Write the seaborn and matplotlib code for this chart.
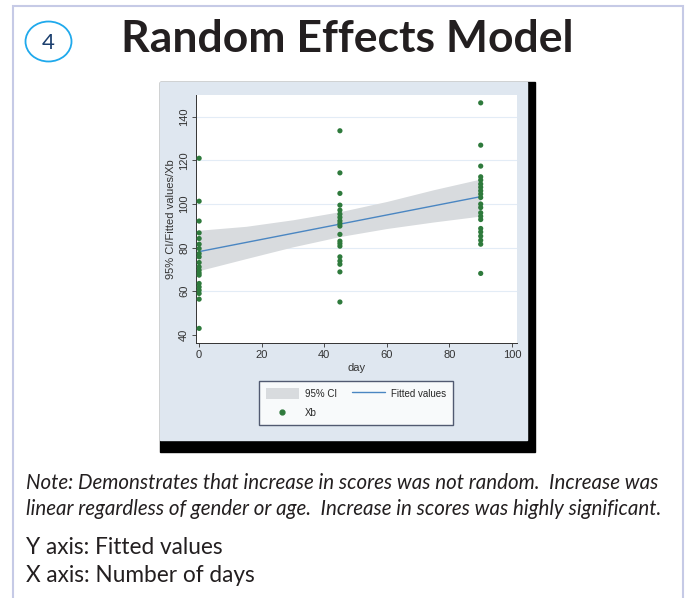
import matplotlib
matplotlib.use("Agg")
import matplotlib.pyplot as plt
from matplotlib.patches import Rectangle, Circle, Patch
from matplotlib.lines import Line2D
import numpy as np
import pandas as pd
import seaborn as sns

# Xb values, by day
day0_xb = [121.0, 101.3, 92.2, 86.8, 84.2, 81.6, 79.6, 77.3, 75.8, 73.2,
           71.2, 69.7, 68.4, 67.4, 63.6, 62.0, 60.5, 59.0, 56.4, 43.0]
day45_xb = [133.6, 114.3, 104.9, 99.5, 97.2, 95.4, 93.9, 92.3, 91.1, 89.9,
            86.1, 83.0, 81.9, 80.7, 75.8, 73.9, 72.4, 68.9, 55.1]
day90_xb = [146.4, 127.0, 117.4, 112.5, 111.0, 109.2, 107.7, 106.1, 104.6, 103.0,
            100.0, 98.4, 96.0, 94.4, 92.9, 88.8, 87.2, 85.3, 83.4, 81.6, 68.2]

# fitted values and 95% CI
fit_day = [0, 15, 30, 45, 60, 75, 90]
fit_val = [78.2, 82.4, 86.6, 90.8, 95.0, 99.2, 103.4]
ci_lo = [69.5, 75.0, 80.4, 85.1, 88.8, 91.8, 94.5]
ci_hi = [88.0, 89.8, 92.8, 96.5, 101.2, 106.6, 111.5]

y_ticks = [40, 60, 80, 100, 120, 140]
x_ticks = [0, 20, 40, 60, 80, 100]

df = pd.DataFrame({
    "day": [0] * len(day0_xb) + [45] * len(day45_xb) + [90] * len(day90_xb),
    "xb": day0_xb + day45_xb + day90_xb,
})
fit_df = pd.DataFrame({"day": fit_day, "fit": fit_val, "lo": ci_lo, "hi": ci_hi})

sns.set_theme(style="white")
plt.rcParams['font.family'] = ['Liberation Sans', 'DejaVu Sans']

W, H = 688, 598
fig = plt.figure(figsize=(W / 100, H / 100), dpi=100)
fig.patch.set_facecolor("white")


def fx(px):
    return px / W


def fy(py):
    return 1 - py / H


# page frame
fig.patches.append(Rectangle((fx(13), fy(610)), fx(683) - fx(13), fy(6) - fy(610),
                             transform=fig.transFigure, fill=False,
                             edgecolor="#c6cae6", lw=1.5, zorder=-5))
# number badge
fig.patches.append(Circle((fx(48.5), fy(41.5)), 23 / W, transform=fig.transFigure,
                          fill=False, edgecolor="#1fa9ec", lw=1.3, zorder=-5))
fig.text(fx(48.5), fy(43), "4", ha="center", va="center", fontsize=16,
         color="#1b3f6e", family="Lato")
fig.text(fx(347), fy(39), "Random Effects Model", ha="center", va="center",
         fontsize=32, fontweight="bold", color="#231f20", family="Lato")

# chart image background with black shadow
fig.patches.append(Rectangle((fx(160), fy(452)), fx(535) - fx(160), fy(82) - fy(452),
                             transform=fig.transFigure, color="black", zorder=-5))
fig.patches.append(Rectangle((fx(160), fy(440)), fx(527) - fx(160), fy(82) - fy(440),
                             transform=fig.transFigure, color="#dfe7f0", zorder=-4))

ax = fig.add_axes([fx(196), fy(343), fx(517) - fx(196), fy(95) - fy(343)])
ax.set_facecolor("white")

ax.fill_between(fit_df["day"], fit_df["lo"], fit_df["hi"], color="#d8dbde",
                lw=0, zorder=1)
sns.lineplot(data=fit_df, x="day", y="fit", ax=ax, color="#4a86c2", lw=1.0, zorder=2)
sns.scatterplot(data=df, x="day", y="xb", ax=ax, color="#2e7a3c", s=14,
                edgecolor="none", zorder=3)

ax.set_xlim(-1.0, 101.6)
ax.set_ylim(36.3, 150)
ax.set_xticks(x_ticks)
ax.set_yticks(y_ticks)
for v in y_ticks[1:]:
    ax.axhline(v, color="#e3ecf6", lw=0.8, zorder=0)

for s in ["top", "right"]:
    ax.spines[s].set_visible(False)
for s in ["left", "bottom"]:
    ax.spines[s].set_color("#333333")
    ax.spines[s].set_linewidth(0.7)
ax.tick_params(axis="both", direction="out", length=3, width=0.6, color="#333333",
               labelsize=8, labelcolor="#333333", pad=2, left=True, bottom=True)
for lab in ax.get_yticklabels():
    lab.set_rotation(90)
    lab.set_va("center")
ax.set_xlabel("day", fontsize=8, color="#333333", labelpad=2)
ax.set_ylabel("95% CI/Fitted values/Xb", fontsize=8, color="#333333", labelpad=2)

handles = [Patch(facecolor="#d8dbde", edgecolor="none", label="95% CI"),
           Line2D([], [], marker="o", ls="none", color="#2e7a3c", markersize=3.5,
                  label="Xb"),
           Line2D([], [], color="#4a86c2", lw=1.0, label="Fitted values")]
leg = fig.legend(handles=handles, loc="center", bbox_to_anchor=(fx(356), fy(403)),
                 ncol=2, fontsize=7, frameon=True, fancybox=False,
                 edgecolor="#2a3550", borderpad=0.7, handlelength=3.4,
                 handletextpad=0.6, handleheight=1.3,
                 columnspacing=1.6, labelspacing=0.9)
leg.get_frame().set_linewidth(1.0)

fig.text(fx(26), fy(483), "Note: Demonstrates that increase in scores was not random.  "
         "Increase was", ha="left", va="center", fontsize=14.8, style="italic",
         color="#231f20", family="Lato")
fig.text(fx(26), fy(509), "linear regardless of gender or age.  Increase in scores "
         "was highly significant.", ha="left", va="center", fontsize=14.8,
         style="italic", color="#231f20", family="Lato")
fig.text(fx(26), fy(548), "Y axis: Fitted values", ha="left", va="center",
         fontsize=16.3, color="#231f20", family="Lato")
fig.text(fx(26), fy(576), "X axis: Number of days", ha="left", va="center",
         fontsize=16.3, color="#231f20", family="Lato")

fig.savefig("out.png", dpi=100)
